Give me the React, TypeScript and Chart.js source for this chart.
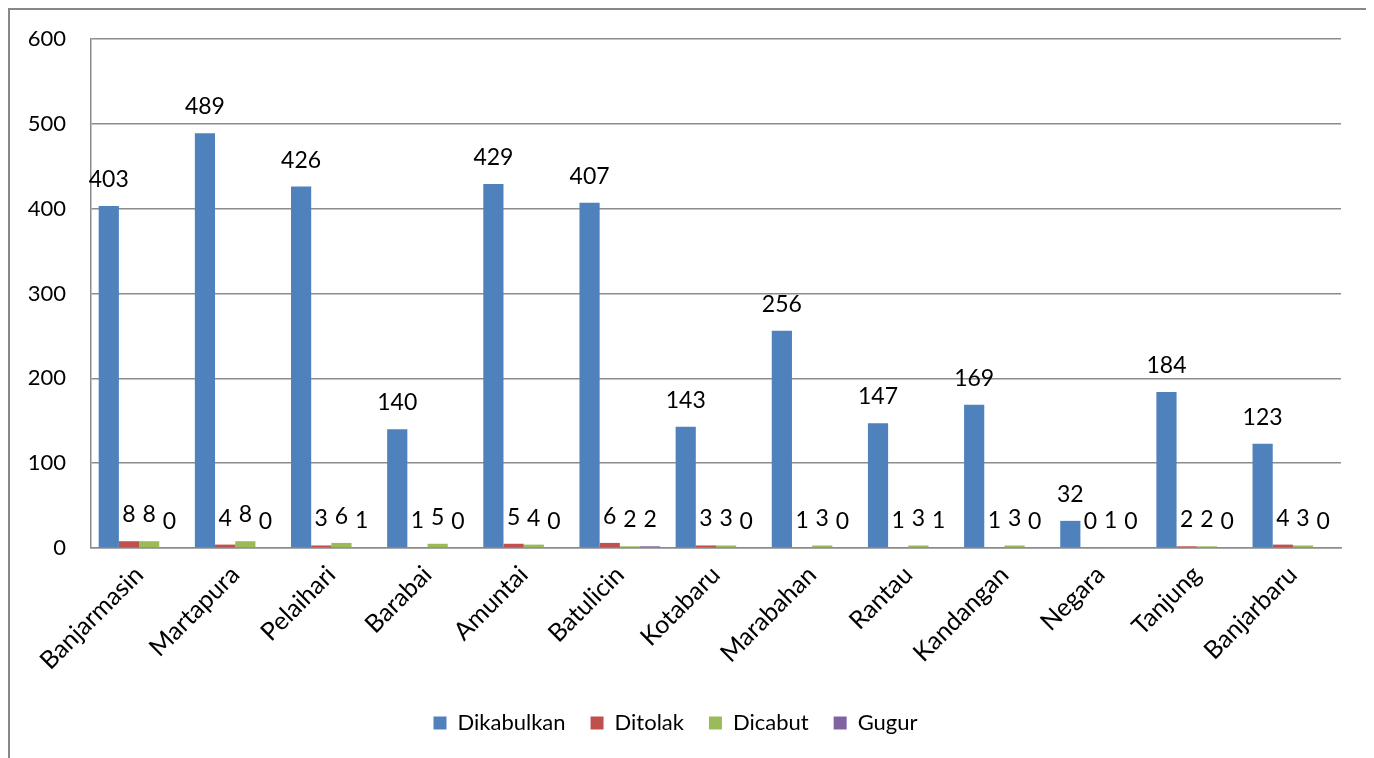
import React, { useEffect, useRef } from "react";
import { Chart, registerables } from "chart.js";

Chart.register(...registerables);

const categories = [
  "Banjarmasin", "Martapura", "Pelaihari", "Barabai", "Amuntai", "Batulicin",
  "Kotabaru", "Marabahan", "Rantau", "Kandangan", "Negara", "Tanjung", "Banjarbaru",
];
const dikabulkan = [403, 489, 426, 140, 429, 407, 143, 256, 147, 169, 32, 184, 123];
const ditolak = [8, 4, 3, 1, 5, 6, 3, 1, 1, 1, 0, 2, 4];
const dicabut = [8, 8, 6, 5, 4, 2, 3, 3, 3, 3, 1, 2, 3];
const gugur = [0, 0, 1, 0, 0, 2, 0, 0, 1, 0, 0, 0, 0];
const yTicks = [0, 100, 200, 300, 400, 500, 600];

const FONT = "Lato, 'Open Sans', sans-serif";
const GRID = "#8c8c8c";

const dataLabels = {
  id: "dataLabels",
  afterDatasetsDraw(chart: any) {
    const ctx = chart.ctx;
    ctx.save();
    ctx.font = `23px ${FONT}`;
    ctx.fillStyle = "#000";
    ctx.textAlign = "center";
    ctx.textBaseline = "alphabetic";
    chart.data.datasets.forEach((ds: any, i: number) => {
      const meta = chart.getDatasetMeta(i);
      meta.data.forEach((el: any, j: number) => {
        ctx.fillText(String(ds.data[j]), el.x, el.y - 19);
      });
    });
    ctx.restore();
  },
};

export default function App() {
  const ref = useRef<HTMLCanvasElement>(null);
  useEffect(() => {
    if (!ref.current) return;
    const chart = new Chart(ref.current, {
      type: "bar",
      data: {
        labels: categories,
        datasets: [
          { label: "Dikabulkan", data: dikabulkan, backgroundColor: "#4F81BD" },
          { label: "Ditolak", data: ditolak, backgroundColor: "#C0504D" },
          { label: "Dicabut", data: dicabut, backgroundColor: "#9BBB59" },
          { label: "Gugur", data: gugur, backgroundColor: "#8064A2" },
        ],
      },
      options: {
        animation: false,
        responsive: false,
        datasets: { bar: { categoryPercentage: 0.84, barPercentage: 1 } },
        layout: { padding: { left: 0, top: 29, right: 28, bottom: 26 } },
        plugins: {
          tooltip: { enabled: false },
          legend: {
            position: "bottom",
            labels: {
              boxWidth: 13,
              boxHeight: 13,
              padding: 25,
              color: "#000",
              font: { family: FONT, size: 22 },
            },
          },
        },
        scales: {
          x: {
            grid: { display: false },
            border: { display: true, color: GRID, width: 1.5 },
            ticks: {
              color: "#000",
              font: { family: FONT, size: 25 },
              maxRotation: 45,
              minRotation: 45,
              padding: 4,
              autoSkip: false,
            },
            afterFit(scale: any) {
              scale.height = 139;
            },
          },
          y: {
            min: 0,
            max: 600,
            afterBuildTicks(scale: any) {
              scale.ticks = yTicks.map((v) => ({ value: v }));
            },
            grid: { color: GRID, lineWidth: 1.5, drawTicks: false },
            border: { display: true, color: GRID, width: 1.5 },
            ticks: {
              color: "#000",
              font: { family: FONT, size: 22 },
              padding: 25,
            },
            afterFit(scale: any) {
              scale.width = 81;
              scale.paddingTop = 0;
              scale.paddingBottom = 0;
            },
          },
        },
      },
      plugins: [dataLabels],
    });
    return () => chart.destroy();
  }, []);

  return (
    <div style={{ border: "2px solid #878787", width: 1359, height: 760 }}>
      <canvas ref={ref} width={1359} height={760} style={{ display: "block" }} />
    </div>
  );
}
